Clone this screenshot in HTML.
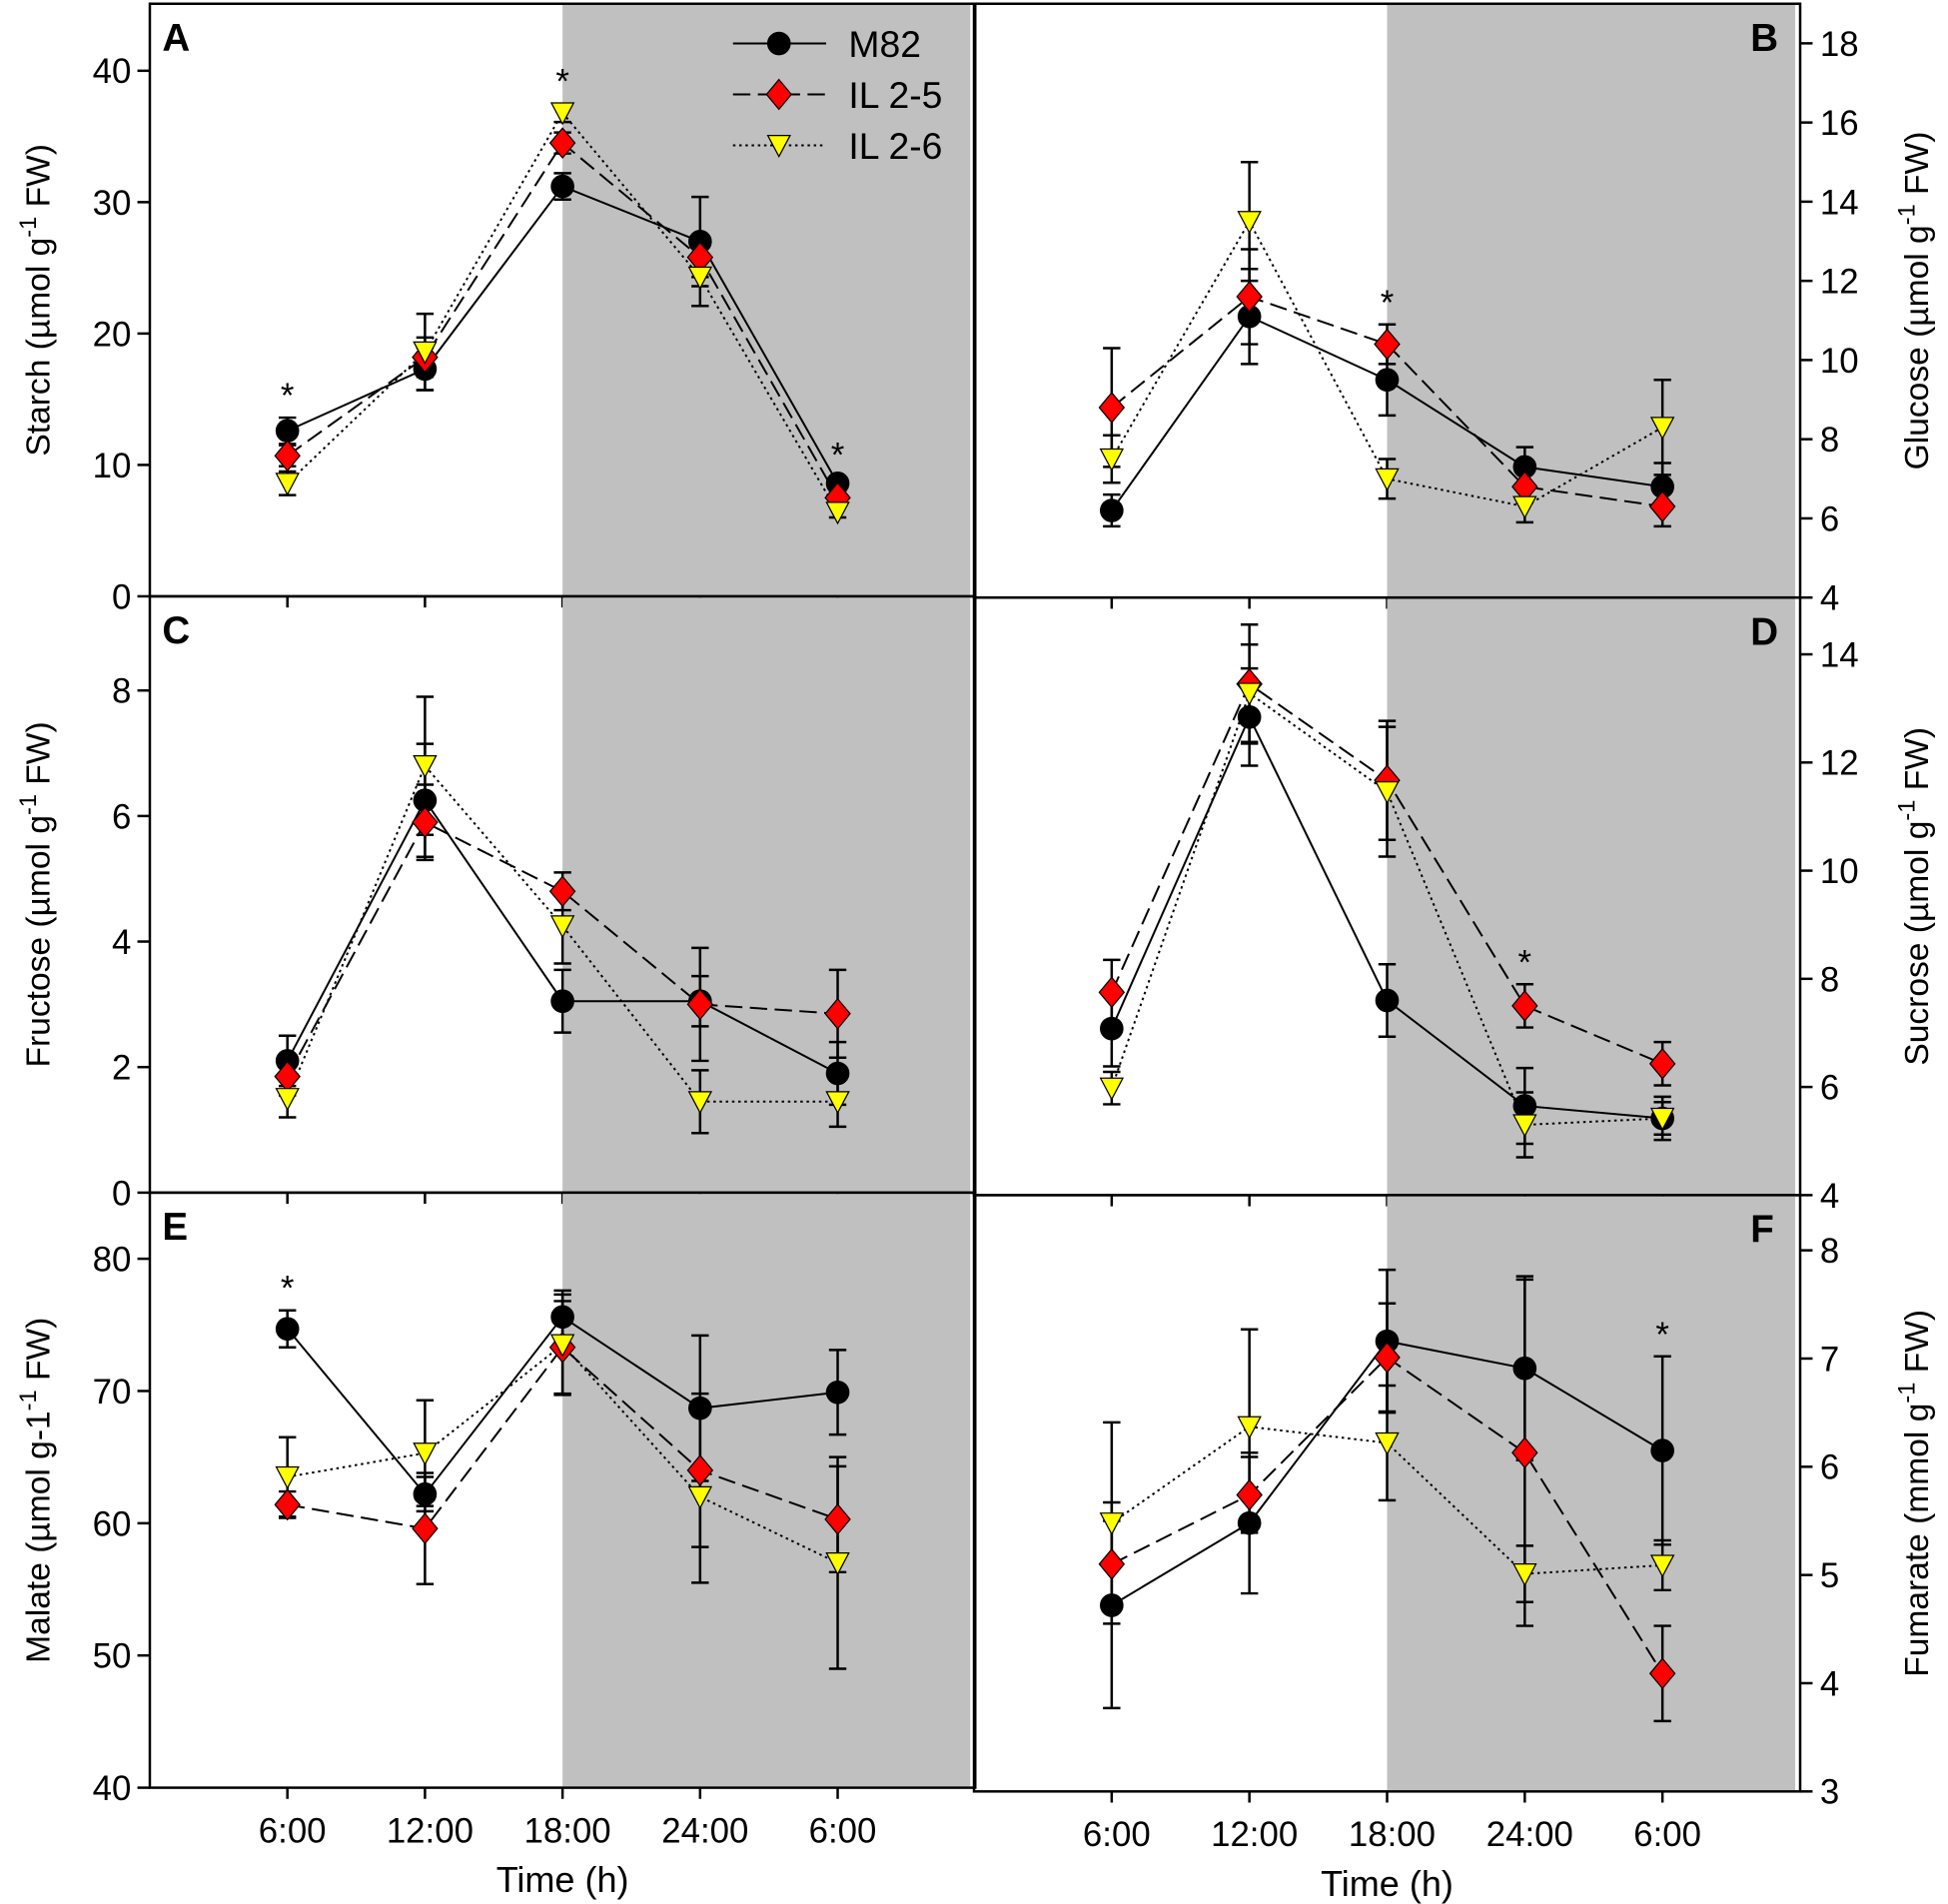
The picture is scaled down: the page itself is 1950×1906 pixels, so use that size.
<!DOCTYPE html>
<html><head><meta charset="utf-8"><style>
html,body{margin:0;padding:0;background:#fff}
svg{display:block}
text{font-family:"Liberation Sans",Arial,sans-serif}
</style></head><body>
<svg id="fig" xmlns="http://www.w3.org/2000/svg" width="1950" height="1906" viewBox="0 0 1568 1532.6"></svg>
<script>
// ---- data ----
const timeLabels = ["6:00","12:00","18:00","24:00","6:00"];
const seriesNames = ["M82","IL 2-5","IL 2-6"];
// Panel A: Starch
const starchM82 = [12.6,17.3,31.2,27.0,8.6];
const starchM82Err = [1.0,1.6,1.0,3.4,0.5];
const starchIL25 = [10.7,18.2,34.5,25.8,7.5];
const starchIL25Err = [0.8,1.5,0.8,1.5,0.5];
const starchIL26 = [8.6,18.6,36.8,24.3,6.4];
const starchIL26Err = [0.9,2.9,0.7,2.2,0.4];
const starchStars = [0,2,4];
// Panel B: Glucose
const glucoseM82 = [6.2,11.1,9.5,7.3,6.8];
const glucoseM82Err = [0.4,1.2,0.9,0.5,0.6];
const glucoseIL25 = [8.8,11.6,10.4,6.8,6.3];
const glucoseIL25Err = [1.5,1.2,0.5,0.4,0.5];
const glucoseIL26 = [7.5,13.5,7.0,6.3,8.3];
const glucoseIL26Err = [0.6,1.5,0.5,0.4,1.2];
const glucoseStars = [2];
// Panel C: Fructose
const fructoseM82 = [2.1,6.25,3.05,3.05,1.9];
const fructoseM82Err = [0.4,0.9,0.5,0.4,0.5];
const fructoseIL25 = [1.85,5.9,4.8,3.0,2.85];
const fructoseIL25Err = [0.3,0.6,0.3,0.9,0.7];
const fructoseIL26 = [1.5,6.8,4.25,1.45,1.45];
const fructoseIL26Err = [0.3,1.1,0.6,0.5,0.4];
const fructoseStars = [];
// Panel D: Sucrose
const sucroseM82 = [7.08,12.84,7.6,5.65,5.42];
const sucroseM82Err = [0.7,0.9,0.67,0.7,0.4];
const sucroseIL25 = [7.75,13.45,11.67,7.5,6.43];
const sucroseIL25Err = [0.6,1.1,1.1,0.4,0.4];
const sucroseIL26 = [5.98,13.28,11.46,5.3,5.42];
const sucroseIL26Err = [0.3,0.9,1.2,0.6,0.3];
const sucroseStars = [3];
// Panel E: Malate
const malateM82 = [74.7,62.2,75.6,68.7,69.9];
const malateM82Err = [1.4,1.3,2.0,5.5,3.2];
const malateIL25 = [61.4,59.6,73.3,64.0,60.3];
const malateIL25Err = [1.0,4.2,3.5,5.8,4.0];
const malateIL26 = [63.5,65.3,73.5,62.0,57.0];
const malateIL26Err = [3.0,4.0,3.8,6.5,8.0];
const malateStars = [0];
// Panel F: Fumarate
const fumarateM82 = [4.72,5.48,7.16,6.91,6.15];
const fumarateM82Err = [0.95,0.65,0.66,0.85,0.87];
const fumarateIL25 = [5.10,5.74,7.01,6.13,4.09];
const fumarateIL25Err = [0.4,0.35,0.5,1.6,0.44];
const fumarateIL26 = [5.48,6.37,6.22,5.01,5.09];
const fumarateIL26Err = [0.93,0.9,0.53,0.26,0.23];
const fumarateStars = [4];
// ticks
const ticksA = [0,10,20,30,40];
const ticksB = [4,6,8,10,12,14,16,18];
const ticksC = [0,2,4,6,8];
const ticksD = [4,6,8,10,12,14];
const ticksE = [40,50,60,70,80];
const ticksF = [3,4,5,6,7,8];

const NS="http://www.w3.org/2000/svg";
const svg=document.getElementById('fig');
function mk(tag,attrs,parent){const e=document.createElementNS(NS,tag);for(const k in attrs)e.setAttribute(k,attrs[k]);(parent||svg).appendChild(e);return e;}

const panels=[
 {id:'a',letter:'A',side:'left',x0:120.6,x1:785,top:3,bot:480,ymin:0,ymax:45.1,ticks:ticksA,data:[starchM82,starchIL25,starchIL26],err:[starchM82Err,starchIL25Err,starchIL26Err],stars:starchStars,title:['Starch (µmol g','-1',' FW)'],legend:true},
 {id:'b',letter:'B',side:'right',x0:784,x1:1449,top:3,bot:481,ymin:4,ymax:19.0,ticks:ticksB,data:[glucoseM82,glucoseIL25,glucoseIL26],err:[glucoseM82Err,glucoseIL25Err,glucoseIL26Err],stars:glucoseStars,title:['Glucose (µmol g','-1',' FW)']},
 {id:'c',letter:'C',side:'left',x0:120.6,x1:785,top:480,bot:960,ymin:0,ymax:9.5,ticks:ticksC,data:[fructoseM82,fructoseIL25,fructoseIL26],err:[fructoseM82Err,fructoseIL25Err,fructoseIL26Err],stars:fructoseStars,title:['Fructose (µmol g','-1',' FW)']},
 {id:'d',letter:'D',side:'right',x0:784,x1:1449,top:481,bot:962,ymin:4,ymax:15.05,ticks:ticksD,data:[sucroseM82,sucroseIL25,sucroseIL26],err:[sucroseM82Err,sucroseIL25Err,sucroseIL26Err],stars:sucroseStars,title:['Sucrose (µmol g','-1',' FW)']},
 {id:'e',letter:'E',side:'left',x0:120.6,x1:785,top:960,bot:1439,ymin:40,ymax:85,ticks:ticksE,data:[malateM82,malateIL25,malateIL26],err:[malateM82Err,malateIL25Err,malateIL26Err],stars:malateStars,title:['Malate (µmol g-1','-1',' FW)'],xlabels:true},
 {id:'f',letter:'F',side:'right',x0:784,x1:1449,top:962,bot:1442,ymin:3,ymax:8.51,ticks:ticksF,data:[fumarateM82,fumarateIL25,fumarateIL26],err:[fumarateM82Err,fumarateIL25Err,fumarateIL26Err],stars:fumarateStars,title:['Fumarate (mmol g','-1',' FW)'],xlabels:true}
];
const dashes=['none','14,6','2,3'];

function marker(g,s,cx,cy){
  let m;
  if(s===0){m=mk('circle',{cx:cx,cy:cy,r:9,fill:'#000',stroke:'#000','stroke-width':1},g);}
  else if(s===1){m=mk('polygon',{points:`${cx},${cy-12} ${cx+10},${cy} ${cx},${cy+12} ${cx-10},${cy}`,fill:'#ff0000',stroke:'#000','stroke-width':1},g);}
  else {m=mk('polygon',{points:`${cx-9},${cy-8} ${cx+9},${cy-8} ${cx},${cy+9}`,fill:'#ffff00',stroke:'#000','stroke-width':1},g);}
  return m;
}

panels.forEach(p=>{
  const g=mk('g',{});
  
  
  const dx=(p.x1-p.x0)/6;
  const X=i=>p.x0+dx*(i+1);
  const Y=v=>p.bot-(v-p.ymin)/(p.ymax-p.ymin)*(p.bot-p.top);
  // shading
  const sh=mk('rect',{x:X(2),y:p.top+1,width:p.x1-X(2)-4,height:p.bot-p.top-2,fill:'#c0c0c0'},g);
  
  
  // frame
  const fr=mk('rect',{x:p.x0,y:p.top,width:p.x1-p.x0,height:p.bot-p.top,fill:'none',stroke:'#000','stroke-width':2},g);
  
  
  // x ticks
  timeLabels.forEach((t,i)=>{
    mk('line',{x1:X(i),x2:X(i),y1:p.bot,y2:p.bot+9,stroke:'#000','stroke-width':2},g);
    if(p.xlabels){
      const tl=mk('text',{x:X(i)+4,y:p.bot+44,'font-size':28,'text-anchor':'middle',fill:'#000'},g);
      tl.textContent=t;
      
      
    }
  });
  if(p.xlabels){
    const xt=mk('text',{x:(p.x0+p.x1)/2+0,y:p.bot+84,'font-size':29,'text-anchor':'middle',fill:'#000'},g);
    xt.textContent='Time (h)';
    
    
  }
  // y ticks
  const ax=p.side==='left'?p.x0:p.x1;
  const dir=p.side==='left'?-1:1;
  p.ticks.forEach(v=>{
    mk('line',{x1:ax,x2:ax+dir*10,y1:Y(v),y2:Y(v),stroke:'#000','stroke-width':2},g);
    const tl=mk('text',{x:p.side==='left'?ax-15:ax+16,y:Y(v)+10,'font-size':28,'text-anchor':p.side==='left'?'end':'start',fill:'#000'},g);
    tl.textContent=v;
    
    
  });
  // y title
  const tx=p.side==='left'?40:1552;
  const ty=(p.top+p.bot)/2;
  const tt=mk('text',{x:tx,y:ty,'font-size':27,'text-anchor':'middle',transform:`rotate(-90 ${tx} ${ty})`,fill:'#000'},g);
  
  
  const t1=mk('tspan',{},tt);t1.textContent=p.title[0];
  const t2=mk('tspan',{'font-size':19,dy:-11},tt);t2.textContent=p.title[1];
  const t3=mk('tspan',{dy:11},tt);t3.textContent=p.title[2];
  // letter
  const lt=mk('text',{x:p.side==='left'?p.x0+10:p.x1-40,y:p.top+38,'font-size':31,'font-weight':'bold',fill:'#000'},g);
  lt.textContent=p.letter;
  
  
  // series lines
  p.data.forEach((arr,s)=>{
    const pts=arr.map((v,i)=>X(i)+','+Y(v)).join(' ');
    const pl=mk('polyline',{points:pts,fill:'none',stroke:'#000','stroke-width':1.6,'stroke-dasharray':dashes[s]},g);
    
    
  });
  // error bars
  p.data.forEach((arr,s)=>{
    arr.forEach((v,i)=>{
      const e=p.err[s][i];
      const eb=mk('path',{d:`M${X(i)},${Y(v-e)}V${Y(v+e)}M${X(i)-7},${Y(v+e)}h14M${X(i)-7},${Y(v-e)}h14`,stroke:'#000','stroke-width':2,fill:'none'},g);
      
      
    });
  });
  // markers
  p.data.forEach((arr,s)=>{
    arr.forEach((v,i)=>{
      const m=marker(g,s,X(i),Y(v));
      
      
    });
  });
  // stars
  p.stars.forEach(i=>{
    let mx=-1e9;
    p.data.forEach((arr,s)=>{mx=Math.max(mx,arr[i]+p.err[s][i]);});
    const st=mk('text',{x:X(i),y:Y(mx)-8,'font-size':28,'text-anchor':'middle',fill:'#000'},g);
    st.textContent='*';
    
    
  });
  if(p.legend){
    const lg=mk('g',{},g);
    
    
    seriesNames.forEach((n,s)=>{
      const ly=35+s*41;
      mk('line',{x1:590,x2:665,y1:ly,y2:ly,stroke:'#000','stroke-width':1.6,'stroke-dasharray':dashes[s]},lg);
      const lm=marker(lg,s,627,ly);
      
      
      const lt2=mk('text',{x:683,y:ly+11,'font-size':30,fill:'#000'},lg);
      lt2.textContent=n;
      
      
    });
  }
});
</script>
</body></html>
